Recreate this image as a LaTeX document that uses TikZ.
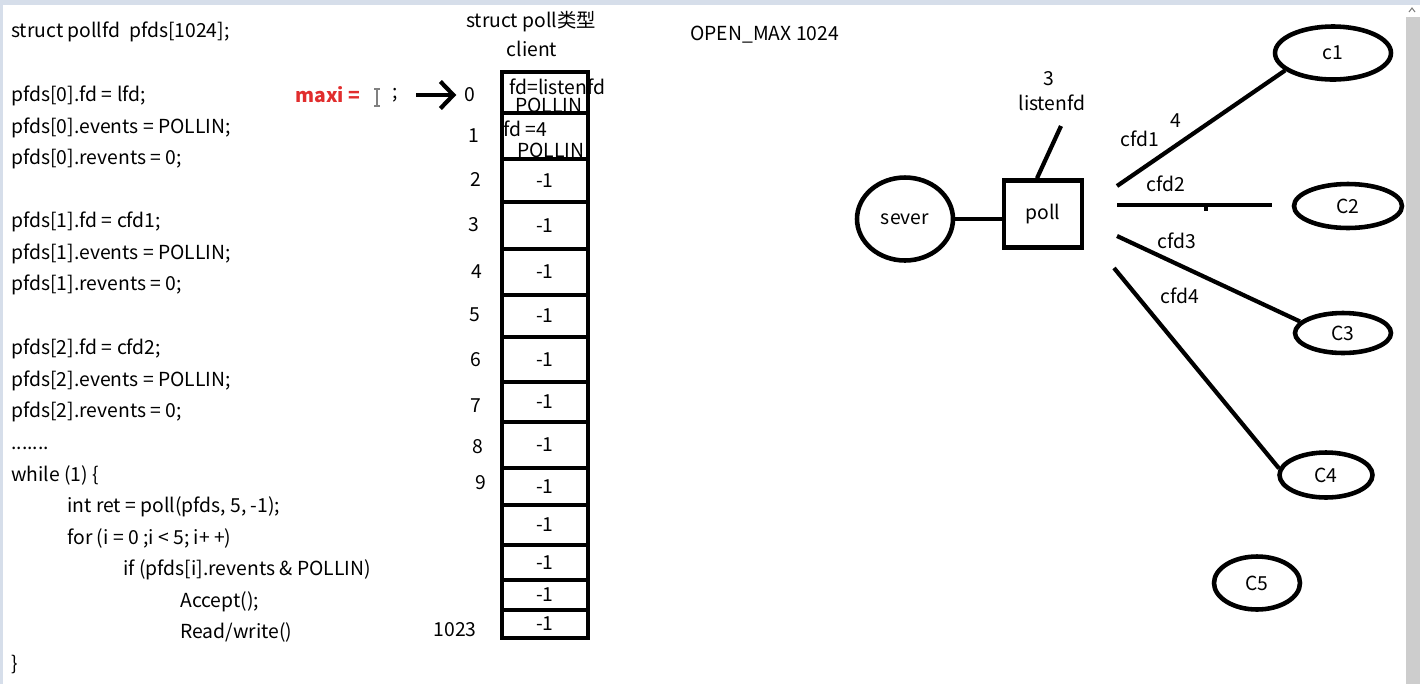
\documentclass[tikz,border=0pt]{standalone}
\usepackage{fontspec}
\setmainfont{Noto Sans CJK SC}
\usetikzlibrary{shapes.geometric,arrows.meta}

\definecolor{maxired}{RGB}{225,45,45}
\definecolor{topbar}{RGB}{214,222,234}
\definecolor{scrollgray}{RGB}{205,205,205}

\tikzset{
  txt/.style={inner sep=0pt, font=\fontsize{11}{13}\selectfont},
  code/.style={txt, anchor=base west},
  cellbox/.style={draw, line width=2.4pt, minimum width=1.72cm, inner sep=0pt, txt},
  client/.style={draw, ellipse, line width=2.6pt, inner sep=0pt, txt},
  wire/.style={line width=2.4pt},
}

\begin{document}
\begin{tikzpicture}[x=0.02cm,y=-0.02cm]
	% page
	\fill[white] (0,0) rectangle (1420,684);
	\fill[topbar] (0,0) rectangle (1420,5);
	\fill[topbar] (0,0) rectangle (3,684);
	\fill[scrollgray] (1406,17) rectangle (1420,684);
	\draw[gray, line width=0.6pt] (1409,12) -- (1412,8) -- (1415,12);

	% code
	\node[code] (decl) at (11,37) {struct pollfd\ \ pfds[1024];};
	\node[code] (fd0) at (11,101) {pfds[0].fd = lfd;};
	\node[code] (ev0) at (11,133) {pfds[0].events = POLLIN;};
	\node[code] (rev0) at (11,164) {pfds[0].revents = 0;};
	\node[code] (fd1) at (11,227) {pfds[1].fd = cfd1;};
	\node[code] (ev1) at (11,259) {pfds[1].events = POLLIN;};
	\node[code] (rev1) at (11,290) {pfds[1].revents = 0;};
	\node[code] (fd2) at (11,354) {pfds[2].fd = cfd2;};
	\node[code] (ev2) at (11,386) {pfds[2].events = POLLIN;};
	\node[code] (rev2) at (11,417) {pfds[2].revents = 0;};
	\node[code] (dots) at (11,449) {.......};
	\node[code] (loop) at (11,481) {while (1) \{};
	\node[code] (ret) at (67,512) {int ret = poll(pfds, 5, -1);};
	\node[code] (for) at (67,544) {for (i = 0 ;i < 5; i+ +)};
	\node[code] (if) at (123,575) {if (pfds[i].revents \& POLLIN)};
	\node[code] (acc) at (180,607) {Accept();};
	\node[code] (rw) at (180,638) {Read/write()};
	\node[code] (close) at (11,670) {\}};

	% maxi
	\node[txt, text=maxired, font=\fontsize{11}{13}\selectfont\bfseries] (maxi) at (328,95) {maxi =};
	\draw[gray, line width=0.7pt] (377,89) -- (377,106);
	\draw[gray, line width=0.7pt] (374,89) -- (380,89);
	\draw[gray, line width=0.7pt] (374,106) -- (380,106);
	\node[txt] (semi) at (395,95) {;};

	% array
	\node[txt] (title) at (531,22) {struct poll类型};
	\node[txt] (client) at (532,49) {client};
	\node[txt, anchor=west] (openmax) at (690,35) {OPEN\_MAX 1024};

	\node[txt] (n0) at (470,95) {0};
	\node[txt] (n1) at (474,136) {1};
	\node[txt] (n2) at (476,179) {2};
	\node[txt] (n3) at (474,225) {3};
	\node[txt] (n4) at (477,272) {4};
	\node[txt] (n5) at (475,315) {5};
	\node[txt] (n6) at (476,360) {6};
	\node[txt] (n7) at (476,406) {7};
	\node[txt] (n8) at (478,447) {8};
	\node[txt] (n9) at (481,483) {9};
	\node[txt] (nlast) at (455,630) {1023};

	\draw[wire, -{Straight Barb[length=2.6mm, width=5.4mm]}] ([xshift=0.36cm]semi.east) -- ([xshift=-0.16cm]n0.west);

	\node[txt, anchor=west] (lfd0) at (509,87) {fd=listenfd};
	\node[txt] (pin0) at (549,105) {POLLIN};
	\node[txt, anchor=west] (lfd1) at (503,129) {fd =4};
	\node[txt] (pin1) at (551,150) {POLLIN};

	\node[cellbox, minimum height=0.82cm] (r0) at (545,92.5) {};
	\node[cellbox, minimum height=0.92cm] (r1) at (545,136) {};
	\node[cellbox, minimum height=0.86cm] (r2) at (545,180.5) {-1};
	\node[cellbox, minimum height=0.94cm] (r3) at (545,225.5) {-1};
	\node[cellbox, minimum height=0.92cm] (r4) at (545,272) {-1};
	\node[cellbox, minimum height=0.84cm] (r5) at (545,316) {-1};
	\node[cellbox, minimum height=0.90cm] (r6) at (545,359.5) {-1};
	\node[cellbox, minimum height=0.80cm] (r7) at (545,402) {-1};
	\node[cellbox, minimum height=0.92cm] (r8) at (545,445) {-1};
	\node[cellbox, minimum height=0.74cm] (r9) at (545,486.5) {-1};
	\node[cellbox, minimum height=0.80cm] (r10) at (545,525) {-1};
	\node[cellbox, minimum height=0.70cm] (r11) at (545,562.5) {-1};
	\node[cellbox, minimum height=0.60cm] (r12) at (545,595) {-1};
	\node[cellbox, minimum height=0.56cm] (r13) at (545,624) {-1};

	% server side
	\node[client, minimum width=1.92cm, minimum height=1.66cm] (sever) at (905,219) {sever};
	\node[draw, line width=2.6pt, minimum width=1.56cm, minimum height=1.34cm, txt] (poll) at (1043,214) {poll};
	\draw[wire] (sever.east) -- (poll.west |- sever.east);

	\node[txt] (three) at (1049,79) {3};
	\node[txt] (listen) at (1052,103) {listenfd};
	\coordinate (lfdend) at (1061,126);
	\draw[wire] ([xshift=-0.12cm]poll.north) -- (lfdend);

	% clients
	\node[client, minimum width=2.32cm, minimum height=1.06cm] (c1) at (1333,53) {c1};
	\node[client, minimum width=2.16cm, minimum height=0.88cm] (c2) at (1348,206) {C2};
	\node[client, minimum width=1.92cm, minimum height=0.80cm] (c3) at (1343,333) {C3};
	\node[client, minimum width=1.86cm, minimum height=0.90cm] (c4) at (1326,475) {C4};
	\node[client, minimum width=1.72cm, minimum height=1.06cm] (c5) at (1257,583) {C5};

	\coordinate (s1) at (1117,186);
	\coordinate (s2) at (1117,205);
	\coordinate (e2) at (1272,205);
	\coordinate (s3) at (1117,236);
	\coordinate (s4) at (1114,268);

	\draw[wire] (s1) -- (c1.200);
	\draw[wire] (s2) -- (e2);
	\draw[wire] (s3) -- (c3.165);
	\draw[wire] (s4) -- (c4.172);
	\draw[line width=1.8pt] (1206,205) -- (1206,211);

	\node[txt] (cfd1) at (1140,139) {cfd1};
	\node[txt] (four) at (1176,121) {4};
	\node[txt] (cfd2) at (1166,184) {cfd2};
	\node[txt] (cfd3) at (1177,241) {cfd3};
	\node[txt] (cfd4) at (1180,296) {cfd4};
\end{tikzpicture}
\end{document}
